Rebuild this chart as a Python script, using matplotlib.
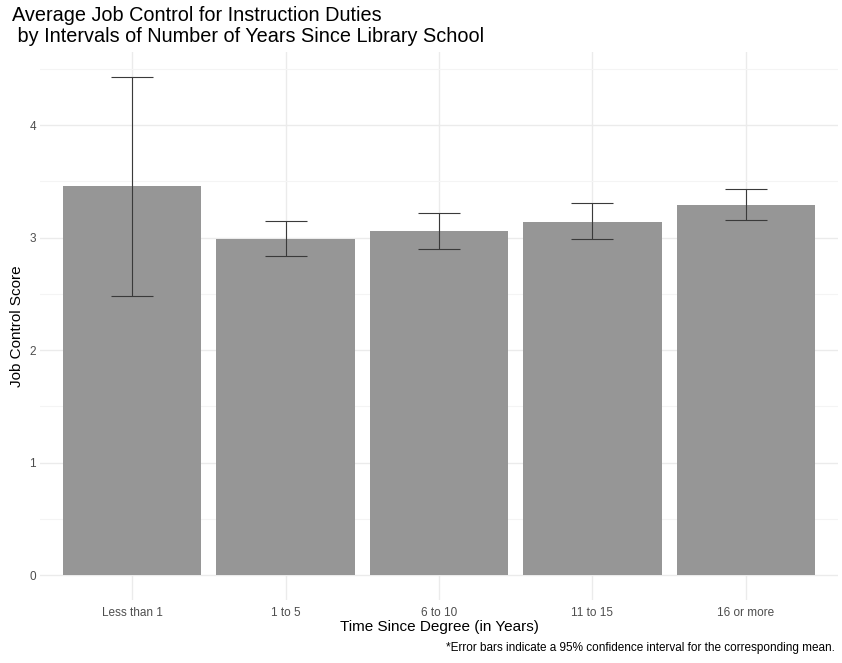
import matplotlib
matplotlib.use("Agg")
from matplotlib import pyplot as plt
from matplotlib.ticker import MultipleLocator

plt.rcParams['font.family'] = ['Liberation Sans', 'DejaVu Sans']

categories = ["Less than 1", "1 to 5", "6 to 10", "11 to 15", "16 or more"]
means = [3.46, 2.99, 3.06, 3.14, 3.295]
ci_low = [2.48, 2.84, 2.90, 2.985, 3.16]
ci_high = [4.43, 3.146, 3.22, 3.31, 3.43]

bar_color = "#969696"
grid_major = "#EBEBEB"
grid_minor = "#F4F4F4"
tick_color = "#4D4D4D"


def plot_job_control():
    fig = plt.figure(figsize=(8.42, 6.63), dpi=100)
    ax = fig.add_axes([40 / 842, 63 / 663, 798 / 842, 548 / 663])

    x = list(range(1, len(categories) + 1))
    ax.bar(x, means, width=0.9, color=bar_color, zorder=2)
    yerr = [[m - lo for m, lo in zip(means, ci_low)],
            [hi - m for m, hi in zip(means, ci_high)]]
    ax.errorbar(x, means, yerr=yerr, fmt="none", ecolor="#3a3a3a",
                elinewidth=0.8, capsize=15, capthick=0.8, zorder=3)

    top = max(ci_high)
    ax.set_xlim(0.4, len(categories) + 0.6)
    ax.set_ylim(-0.05 * top, top * 1.05)

    ax.yaxis.set_major_locator(MultipleLocator(1))
    ax.yaxis.set_minor_locator(MultipleLocator(0.5))
    ax.set_xticks(x)
    ax.set_xticklabels(categories)

    ax.grid(True, which="major", color=grid_major, linewidth=1.0, zorder=0)
    ax.grid(True, which="minor", axis="y", color=grid_minor, linewidth=0.8, zorder=0)
    ax.set_axisbelow(True)
    for sp in ax.spines.values():
        sp.set_visible(False)
    ax.tick_params(which="both", length=0, labelsize=8.5, labelcolor=tick_color, pad=3)
    ax.tick_params(axis="x", pad=5)

    ax.set_xlabel("Time Since Degree (in Years)", fontsize=11, labelpad=1)
    ax.set_ylabel("Job Control Score", fontsize=11, labelpad=4)

    fig.text(12 / 842, 1 - 6 / 663,
             "Average Job Control for Instruction Duties\n by Intervals of Number of Years Since Library School",
             fontsize=14.3, va="top", ha="left", linespacing=1.15)
    fig.text(835 / 842, 1 - 648 / 663,
             "*Error bars indicate a 95% confidence interval for the corresponding mean.",
             fontsize=8.5, ha="right", va="center")

    fig.savefig("out.png", dpi=100)
    plt.close("all")


if __name__ == '__main__':
    plot_job_control()
